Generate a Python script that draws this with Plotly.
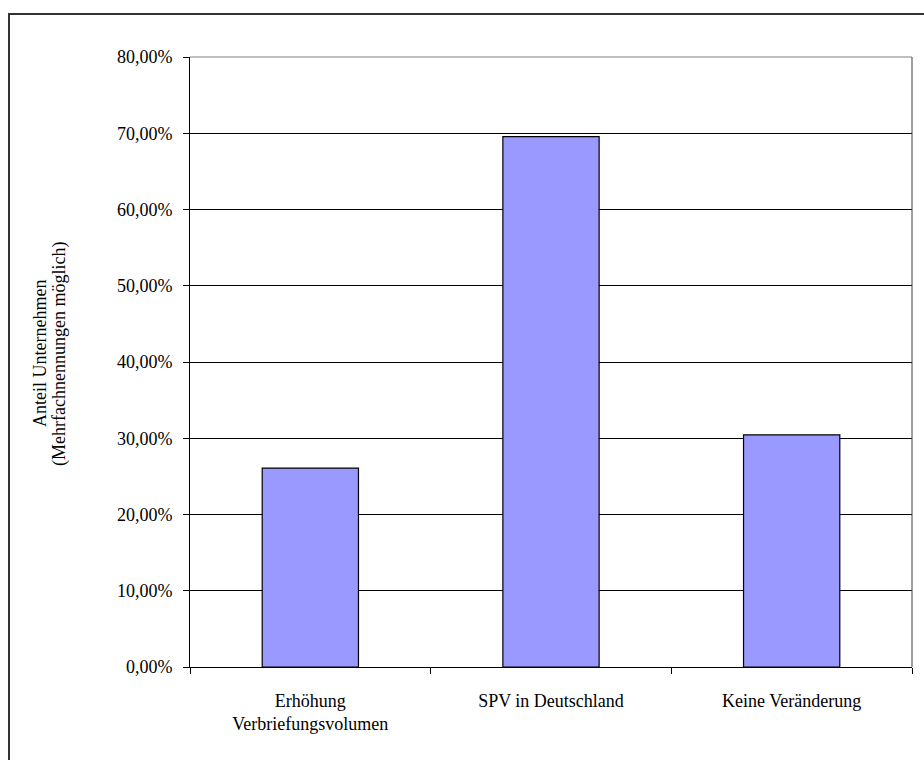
import plotly.graph_objects as go

# Survey answers: share of companies per expected effect (multiple answers allowed)
categories = ["Erhöhung<br>Verbriefungsvolumen", "SPV in Deutschland", "Keine Veränderung"]
shares = [0.2609, 0.6957, 0.3043]
y_ticks = [0.0, 0.1, 0.2, 0.3, 0.4, 0.5, 0.6, 0.7, 0.8]
y_title_lines = ["Anteil Unternehmen", "(Mehrfachnennungen möglich)"]

FONT = "Liberation Serif"
FS = 18
W, H = 924, 760
L, R, T, B = 190, 12, 57, 93
pw, ph = W - L - R, H - T - B


def px_x(px):
    return (px - L) / pw


def px_y(py):
    return (H - B - py) / ph


fig = go.Figure(
    go.Bar(
        x=categories,
        y=shares,
        marker=dict(color="#9999FF", line=dict(color="#000000", width=1.2)),
        hoverinfo="skip",
    )
)

fig.update_layout(
    width=W,
    height=H,
    margin=dict(l=L, r=R, t=T, b=B, pad=0),
    paper_bgcolor="white",
    plot_bgcolor="white",
    separators=",.",
    bargap=0.6,
    showlegend=False,
    font=dict(family=FONT, size=FS, color="#000000"),
)

fig.update_xaxes(
    type="category",
    range=[-0.5, 2.5],
    tickson="boundaries",
    ticks="outside",
    ticklen=6,
    tickcolor="#000000",
    tickwidth=1,
    showline=True,
    linecolor="#000000",
    linewidth=1,
    showgrid=False,
    ticklabelstandoff=17,
    tickfont=dict(family=FONT, size=FS, color="#000000"),
)

fig.update_yaxes(
    range=[0, 0.8],
    tickvals=y_ticks,
    tickformat=".2%",
    ticks="outside",
    ticklen=6,
    tickcolor="#000000",
    showline=True,
    linecolor="#000000",
    linewidth=1,
    showgrid=True,
    gridcolor="#000000",
    gridwidth=1,
    zeroline=False,
    ticklabelstandoff=7,
    tickfont=dict(family=FONT, size=FS, color="#000000"),
)

# Plot-area frame (top and right edges)
fig.add_shape(type="line", xref="paper", yref="paper", x0=0, x1=1, y0=1, y1=1,
              line=dict(color="#808080", width=1), layer="above")
fig.add_shape(type="line", xref="paper", yref="paper", x0=1, x1=1, y0=0, y1=1,
              line=dict(color="#404040", width=1), layer="above")

# Chart-area frame
fig.add_shape(type="rect", xref="paper", yref="paper",
              x0=px_x(9), x1=px_x(940), y0=px_y(14), y1=px_y(780),
              line=dict(color="#333333", width=2), layer="below")

# Y axis title, two tightly spaced rotated lines
for text, cx in zip(y_title_lines, [40, 59]):
    fig.add_annotation(
        xref="paper", yref="paper",
        x=px_x(cx), y=px_y(354),
        text=text,
        textangle=-90,
        showarrow=False,
        font=dict(family=FONT, size=FS, color="#000000"),
        xanchor="center", yanchor="middle",
    )

fig.write_html("out.html")
